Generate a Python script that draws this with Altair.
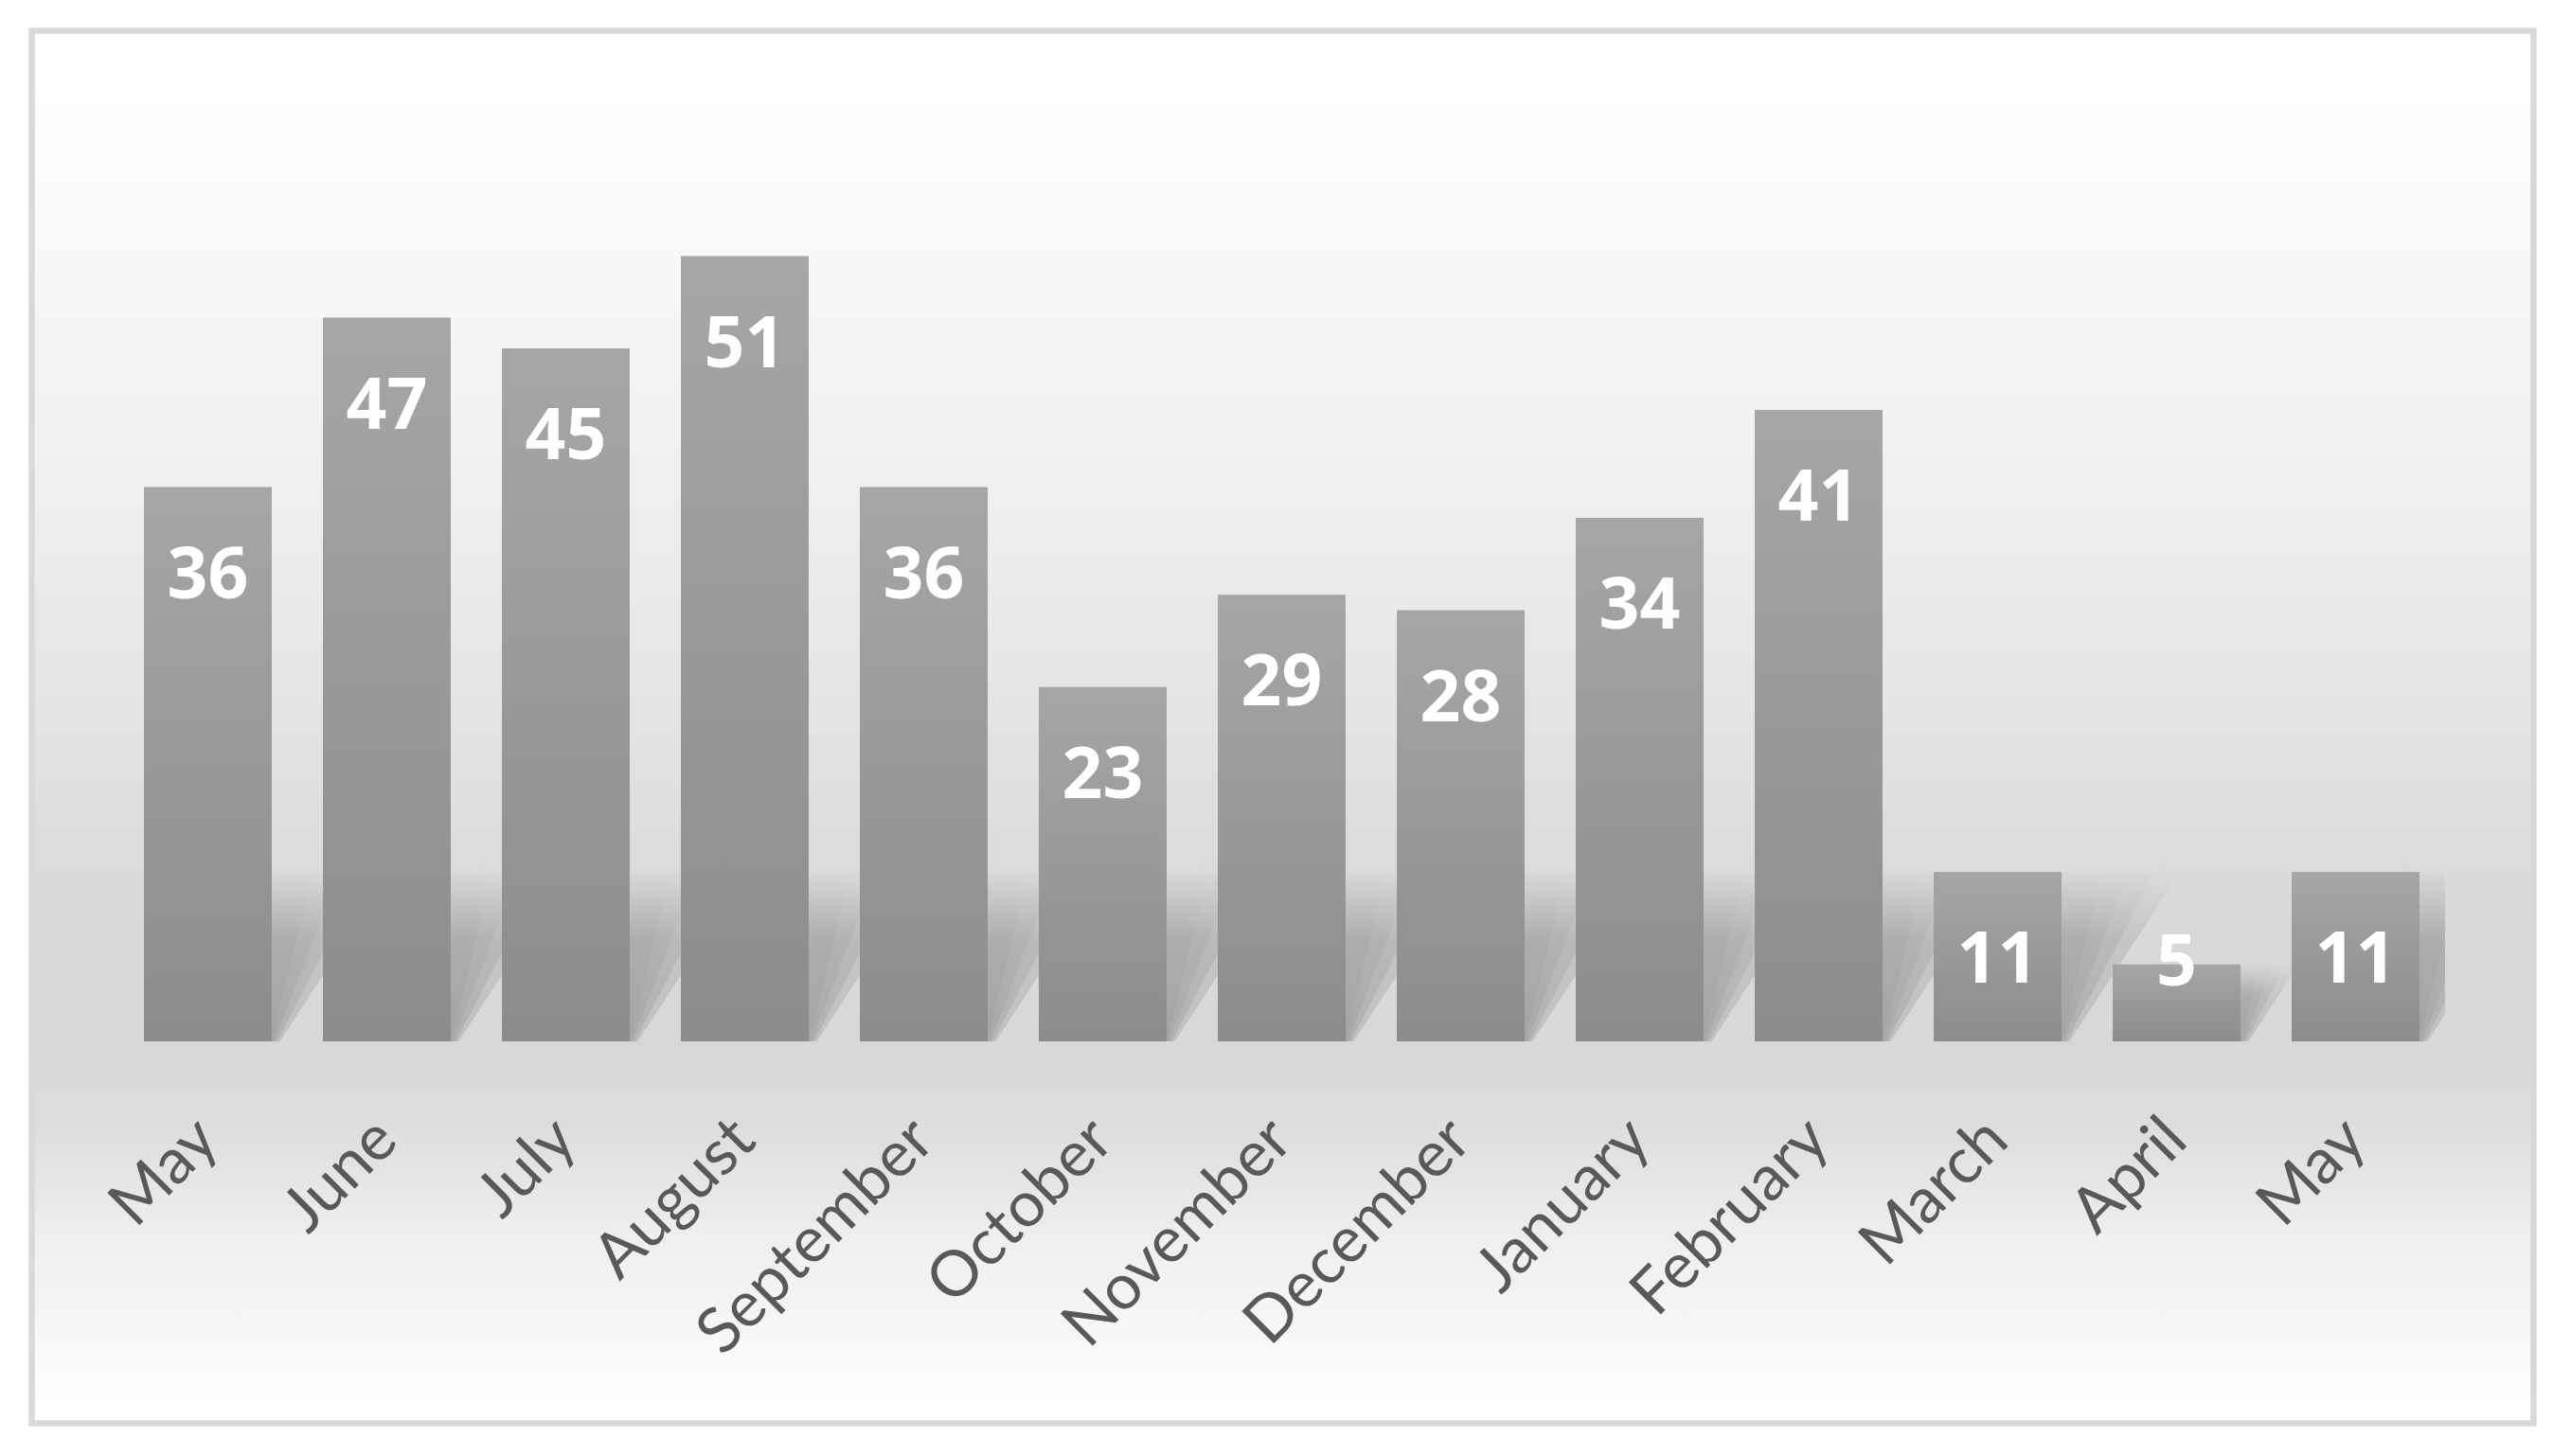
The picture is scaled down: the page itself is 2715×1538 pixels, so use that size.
import altair as alt
import pandas as pd

# ---- data ----
months = ["May", "June", "July", "August", "September", "October", "November",
          "December", "January", "February", "March", "April", "May"]
values = [36, 47, 45, 51, 36, 23, 29, 28, 34, 41, 11, 5, 11]

keys = [f"{i:02d}|{m}" for i, m in enumerate(months)]
df = pd.DataFrame({"key": keys, "idx": list(range(len(months))),
                   "month": months, "value": values})

W, H = 2457, 976
AX_FONT = "Lato"
NUM_FONT = "Open Sans"
P_IN, P_OUT = 0.286, 0.143

x_enc = alt.X(
    "key:N", sort=None,
    scale=alt.Scale(paddingInner=P_IN, paddingOuter=P_OUT),
    axis=alt.Axis(
        title=None, orient="bottom", labelExpr="split(datum.label, '|')[1]",
        labelAngle=-45, labelAlign="right", labelBaseline="middle",
        labelPadding=93, labelLimit=0, ticks=False, tickSize=0,
        domain=False, grid=False,
        labelFont=AX_FONT, labelFontSize=67, labelColor="#595959",
        zindex=2,
    ),
)
y_scale = alt.Scale(domain=[0, 60])

bg_grad = alt.LinearGradient(
    gradient="linear", x1=0, x2=0, y1=0, y2=1,
    stops=[
        alt.GradientStop(color="#ffffff", offset=0.0),
        alt.GradientStop(color="#f9f9f9", offset=0.13),
        alt.GradientStop(color="#f1f1f1", offset=0.30),
        alt.GradientStop(color="#e6e6e6", offset=0.46),
        alt.GradientStop(color="#d9d9d9", offset=0.63),
        alt.GradientStop(color="#d8d8d8", offset=0.73),
        alt.GradientStop(color="#dedede", offset=0.79),
        alt.GradientStop(color="#efefef", offset=0.87),
        alt.GradientStop(color="#ffffff", offset=1.0),
    ],
)

bar_grad = alt.LinearGradient(
    gradient="linear", x1=0, x2=0, y1=0, y2=1,
    stops=[
        alt.GradientStop(color="#a6a6a6", offset=0.0),
        alt.GradientStop(color="#8c8c8c", offset=1.0),
    ],
)

shadow_grad = alt.LinearGradient(
    gradient="linear", x1=0, x2=0, y1=1, y2=0,
    stops=[
        alt.GradientStop(color="#9a9a9a", offset=0.0),
        alt.GradientStop(color="#a6a6a6", offset=0.6),
        alt.GradientStop(color="#d8d8d8", offset=1.0),
    ],
)

background = alt.Chart(pd.DataFrame({"a": [0]})).mark_rect(
    fill=bg_grad, stroke="#d9d9d9", strokeWidth=6.5
).encode(
    x=alt.value(-91.5), x2=alt.value(W + 93.5),
    y=alt.value(-91.5), y2=alt.value(H + 403.5),
)

base = alt.Chart(df)

# soft perspective shadow behind each bar (skewed up and to the right),
# drawn as a few offset translucent copies to mimic a blur
shadow = base.transform_calculate(
    hs="min(datum.value, 11)",
    pts="[0, 1]",
    blur="[0.55, 0.85, 1.15, 1.45]",
).transform_flatten(["pts"]).transform_flatten(["blur"]).transform_calculate(
    ys="datum.pts * datum.hs",
    xl=f"datum.idx + {P_OUT} + datum.pts * datum.hs * 0.0387 * datum.blur",
    grp="datum.key + '-' + datum.blur",
).transform_calculate(
    xr=f"datum.xl + {1 - P_IN} + (datum.blur - 0.55) * 0.05",
).mark_area(orient="horizontal", fill=shadow_grad, opacity=0.38, clip=True).encode(
    y=alt.Y("ys:Q", scale=y_scale, axis=None),
    x=alt.X("xl:Q", stack=None,
            scale=alt.Scale(domain=[0, len(months)], nice=False, zero=False),
            axis=None),
    x2="xr:Q",
    detail="grp:N",
)

bars = base.mark_bar(fill=bar_grad).encode(
    x=x_enc,
    y=alt.Y("value:Q", scale=y_scale, axis=None),
)

labels = base.transform_calculate(
    label_y="max(datum.value - 7.2, 3.65)"
).mark_text(
    font=NUM_FONT, fontWeight="bold", fontSize=75, color="#ffffff",
    align="center", baseline="alphabetic",
).encode(
    x=x_enc,
    y=alt.Y("label_y:Q", scale=y_scale, axis=None),
    text=alt.Text("value:Q"),
)

main = alt.layer(bars, labels)

chart = alt.layer(background, shadow, main).resolve_scale(
    x="independent"
).properties(
    width=W, height=H,
    padding={"left": 117, "top": 116, "right": 108, "bottom": 410},
    autosize=alt.AutoSizeParams(type="none"),
    background="#ffffff",
).configure_view(stroke=None)

chart.save("out.html", embed_options={"renderer": "svg", "actions": False})
